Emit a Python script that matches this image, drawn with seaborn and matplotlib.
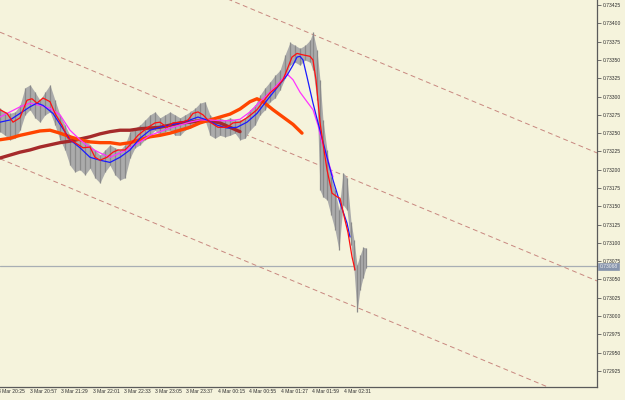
import matplotlib
matplotlib.use("Agg")
import matplotlib.pyplot as plt
import matplotlib.transforms as mtransforms
import seaborn as sns

# ---------------- data (bar index, price) ----------------
price_bar = [0, 5, 10, 15, 20, 25, 30, 35, 40, 45, 50, 55, 60, 65, 70, 75, 80, 85, 90, 95,
             100, 105, 110, 115, 120, 125, 130, 135, 140, 145, 150, 155, 160, 165, 170, 175,
             180, 185, 190, 195, 200, 205, 210, 215, 220, 225, 230, 235, 240, 245, 250, 255,
             260, 265, 270, 275, 280, 285, 290, 295, 300, 305, 310, 313, 317, 320, 323, 327,
             331, 335, 339, 343, 347, 351, 354, 357, 360, 363, 366]
price_high = [0.73284, 0.73279, 0.73277, 0.73279, 0.73288, 0.73312, 0.73316, 0.73306, 0.73295, 0.73306,
              0.73316, 0.73295, 0.73275, 0.73261, 0.73247, 0.73241, 0.73243, 0.73241, 0.73234, 0.73227,
              0.73220, 0.73227, 0.73234, 0.73230, 0.73227, 0.73234, 0.73252, 0.73257, 0.73261, 0.73268,
              0.73275, 0.73279, 0.73271, 0.73275, 0.73279, 0.73275, 0.73271, 0.73275, 0.73279, 0.73284,
              0.73291, 0.73293, 0.73275, 0.73268, 0.73271, 0.73268, 0.73271, 0.73268, 0.73268, 0.73271,
              0.73282, 0.73288, 0.73302, 0.73312, 0.73320, 0.73329, 0.73336, 0.73357, 0.73374, 0.73370,
              0.73366, 0.73370, 0.73377, 0.73388, 0.73363, 0.73323, 0.73268, 0.73227, 0.73190, 0.73172,
              0.73145, 0.73196, 0.73189, 0.73129, 0.73104, 0.73070, 0.73083, 0.73094, 0.73093]
price_low = [0.73252, 0.73247, 0.73241, 0.73243, 0.73254, 0.73275, 0.73282, 0.73271, 0.73265, 0.73275,
             0.73279, 0.73261, 0.73241, 0.73227, 0.73206, 0.73197, 0.73200, 0.73193, 0.73202, 0.73189,
             0.73182, 0.73197, 0.73206, 0.73193, 0.73186, 0.73189, 0.73216, 0.73230, 0.73234, 0.73241,
             0.73247, 0.73254, 0.73247, 0.73252, 0.73254, 0.73247, 0.73247, 0.73254, 0.73257, 0.73261,
             0.73268, 0.73268, 0.73247, 0.73243, 0.73247, 0.73245, 0.73247, 0.73250, 0.73241, 0.73243,
             0.73254, 0.73261, 0.73275, 0.73282, 0.73293, 0.73298, 0.73309, 0.73325, 0.73343, 0.73347,
             0.73343, 0.73350, 0.73347, 0.73336, 0.73295, 0.73172, 0.73163, 0.73159, 0.73138, 0.73118,
             0.73090, 0.73152, 0.73145, 0.73097, 0.73063, 0.73006, 0.73036, 0.73052, 0.73066]

red_bar = [0, 7, 13, 20, 27, 32, 37, 43, 50, 55, 62, 68, 75, 83, 90, 95, 100, 107, 113, 118, 125,
           130, 138, 147, 155, 160, 167, 173, 182, 188, 193, 198, 203, 210, 218, 227, 233, 240,
           248, 257, 263, 270, 277, 283, 288, 292, 297, 303, 310, 313, 316, 320, 323, 327, 332,
           337, 340, 345, 348, 352, 355]
red_val = [0.73282, 0.73277, 0.73265, 0.73271, 0.73295, 0.73297, 0.73291, 0.73298, 0.73293, 0.73277,
           0.73261, 0.73243, 0.73237, 0.73230, 0.73231, 0.73217, 0.73213, 0.73217, 0.73224, 0.73227,
           0.73227, 0.73234, 0.73247, 0.73257, 0.73264, 0.73265, 0.73258, 0.73264, 0.73265, 0.73268,
           0.73277, 0.73279, 0.73275, 0.73265, 0.73258, 0.73258, 0.73264, 0.73265, 0.73272, 0.73282,
           0.73293, 0.73305, 0.73313, 0.73323, 0.73340, 0.73354, 0.73359, 0.73357, 0.73355, 0.73350,
           0.73323, 0.73265, 0.73236, 0.73200, 0.73168, 0.73163, 0.73161, 0.73131, 0.73114, 0.73081,
           0.73063]

blue_bar = [0, 10, 20, 30, 37, 43, 53, 62, 70, 80, 90, 100, 110, 120, 130, 140, 150, 160, 170, 180,
            190, 198, 207, 217, 227, 237, 247, 257, 267, 277, 287, 293, 297, 300, 303, 307, 313, 320,
            327, 333, 340, 347, 350]
blue_val = [0.73265, 0.73268, 0.73277, 0.73286, 0.73291, 0.73288, 0.73277, 0.73258, 0.73241, 0.73230,
            0.73217, 0.73213, 0.73210, 0.73217, 0.73227, 0.73243, 0.73254, 0.73258, 0.73261, 0.73264,
            0.73268, 0.73272, 0.73268, 0.73261, 0.73257, 0.73258, 0.73265, 0.73277, 0.73295, 0.73312,
            0.73329, 0.73343, 0.73354, 0.73355, 0.73350, 0.73327, 0.73291, 0.73254, 0.73217, 0.73186,
            0.73155, 0.73127, 0.73108]

magenta_bar = [0, 10, 20, 30, 40, 50, 60, 70, 80, 90, 100, 110, 120, 130, 140, 150, 160, 170, 180,
               190, 200, 210, 220, 230, 240, 250, 260, 270, 280, 287, 293, 300, 307, 313, 318, 322,
               327, 333]
magenta_val = [0.73272, 0.73279, 0.73286, 0.73291, 0.73288, 0.73284, 0.73275, 0.73254, 0.73241, 0.73230,
               0.73223, 0.73217, 0.73223, 0.73230, 0.73238, 0.73247, 0.73252, 0.73257, 0.73261, 0.73265,
               0.73268, 0.73268, 0.73267, 0.73267, 0.73269, 0.73279, 0.73293, 0.73306, 0.73320, 0.73331,
               0.73323, 0.73306, 0.73293, 0.73282, 0.73261, 0.73238, 0.73217, 0.73190]

orange_bar = [0, 10, 20, 30, 40, 50, 60, 70, 80, 90, 100, 110, 120, 130, 140, 150, 160, 170, 180,
              190, 200, 210, 220, 230, 240, 250, 257, 263, 273, 283, 293, 302]
orange_val = [0.73241, 0.73243, 0.73247, 0.73250, 0.73253, 0.73254, 0.73250, 0.73245, 0.73241, 0.73238,
              0.73237, 0.73237, 0.73235, 0.73237, 0.73241, 0.73245, 0.73247, 0.73250, 0.73254, 0.73258,
              0.73264, 0.73268, 0.73272, 0.73276, 0.73283, 0.73293, 0.73297, 0.73293, 0.73282, 0.73272,
              0.73262, 0.73250]

brown_bar = [0, 10, 20, 30, 40, 50, 60, 70, 80, 90, 100, 110, 120, 130, 140, 150, 160, 170, 180,
             190, 200, 210, 220, 230, 240]
brown_val = [0.73216, 0.73220, 0.73224, 0.73227, 0.73231, 0.73234, 0.73237, 0.73239, 0.73242, 0.73245,
             0.73249, 0.73252, 0.73254, 0.73254, 0.73256, 0.73257, 0.73258, 0.73261, 0.73264, 0.73265,
             0.73267, 0.73267, 0.73264, 0.73258, 0.73252]

channel_bar = [0, 597]
channel_mid = [0.73388, 0.73048]
channel_offsets = [0.00175, 0.0, -0.00173]

current_price = 0.73068
current_label = "0.73068"

time_tick_bar = [-4, 28, 59, 91, 122, 153, 184, 216, 247, 279, 310, 342]
time_labels = ["3 Mar 20:25", "3 Mar 20:57", "3 Mar 21:29", "3 Mar 22:01", "3 Mar 22:33",
               "3 Mar 23:05", "3 Mar 23:37", "4 Mar 00:15", "4 Mar 00:55", "4 Mar 01:27",
               "4 Mar 01:59", "4 Mar 02:31"]
price_ticks = [0.73425, 0.73400, 0.73375, 0.73350, 0.73325, 0.73300, 0.73275, 0.73250, 0.73225,
               0.73200, 0.73175, 0.73150, 0.73125, 0.73100, 0.73075, 0.73050, 0.73025, 0.73000,
               0.72975, 0.72950, 0.72925]

# ---------------- style ----------------
sns.set_theme(style="white")
BG = "#f5f3dc"
AX = "#5a5a5a"
plt.rcParams["font.family"] = ["Liberation Sans", "DejaVu Sans"]

W, H = 625, 400
fig = plt.figure(figsize=(6.25, 4.0), dpi=100, facecolor=BG)
ax = fig.add_axes([0, 13 / H, 597 / W, 387 / H])
ax.set_facecolor(BG)

# channel lines
for off in channel_offsets:
    ax.plot(channel_bar, [v + off for v in channel_mid], color="#c8877f", lw=0.7,
            dashes=(5, 3.5), zorder=1)

# current price line
ax.axhline(current_price, color="#a8aeb4", lw=0.9, zorder=1)

# price bars
ax.fill_between(price_bar, price_low, price_high, color="#ababab", lw=0, zorder=2)
ax.vlines(price_bar, price_low, price_high, color="#8a8a8a", lw=0.9, zorder=2)

# moving averages
sns.lineplot(x=brown_bar, y=brown_val, ax=ax, color="#a52a2a", lw=2.4, zorder=3)
sns.lineplot(x=orange_bar, y=orange_val, ax=ax, color="#ff4500", lw=2.4, zorder=3)
sns.lineplot(x=magenta_bar, y=magenta_val, ax=ax, color="#ff33ff", lw=0.9, zorder=4)
sns.lineplot(x=blue_bar, y=blue_val, ax=ax, color="#1a1aff", lw=0.9, zorder=5)
sns.lineplot(x=red_bar, y=red_val, ax=ax, color="#ff1010", lw=0.9, zorder=6)

ax.set_xlim(0, 597)
ax.set_ylim(0.72903, 0.73432)
ax.set_xlabel("")
ax.set_ylabel("")

for s in ["top", "left"]:
    ax.spines[s].set_visible(False)
for s in ["right", "bottom"]:
    ax.spines[s].set_visible(True)
    ax.spines[s].set_color(AX)
    ax.spines[s].set_linewidth(0.9)

# y axis on right
ax.yaxis.tick_right()
ax.set_yticks(price_ticks)
ax.set_yticklabels([f"{p:.5f}" for p in price_ticks])
ax.tick_params(axis="y", which="both", direction="out", length=3, width=0.6, color=AX,
               labelsize=3.6, pad=1, labelcolor="#303030", left=False, right=True)

# x axis ticks with left-aligned labels
ax.set_xticks([t for t in time_tick_bar if t >= 0])
ax.set_xticklabels([])
ax.tick_params(axis="x", direction="out", length=3, width=0.6, color=AX)
trans = mtransforms.blended_transform_factory(ax.transData, ax.transAxes)
for t, lab in zip(time_tick_bar, time_labels):
    ax.text(t + 2, -0.006, lab, transform=trans, ha="left", va="top", fontsize=3.6,
            color="#303030", clip_on=False)

# current price box on axis
transy = mtransforms.blended_transform_factory(ax.transAxes, ax.transData)
ax.text(1.004, current_price, current_label, transform=transy, ha="left", va="center",
        fontsize=3.6, color="#f0f0f0", clip_on=False,
        bbox=dict(boxstyle="square,pad=0.25", fc="#8795ad", ec="#8795ad", lw=0.5))

fig.savefig("out.png", dpi=100, facecolor=BG)
